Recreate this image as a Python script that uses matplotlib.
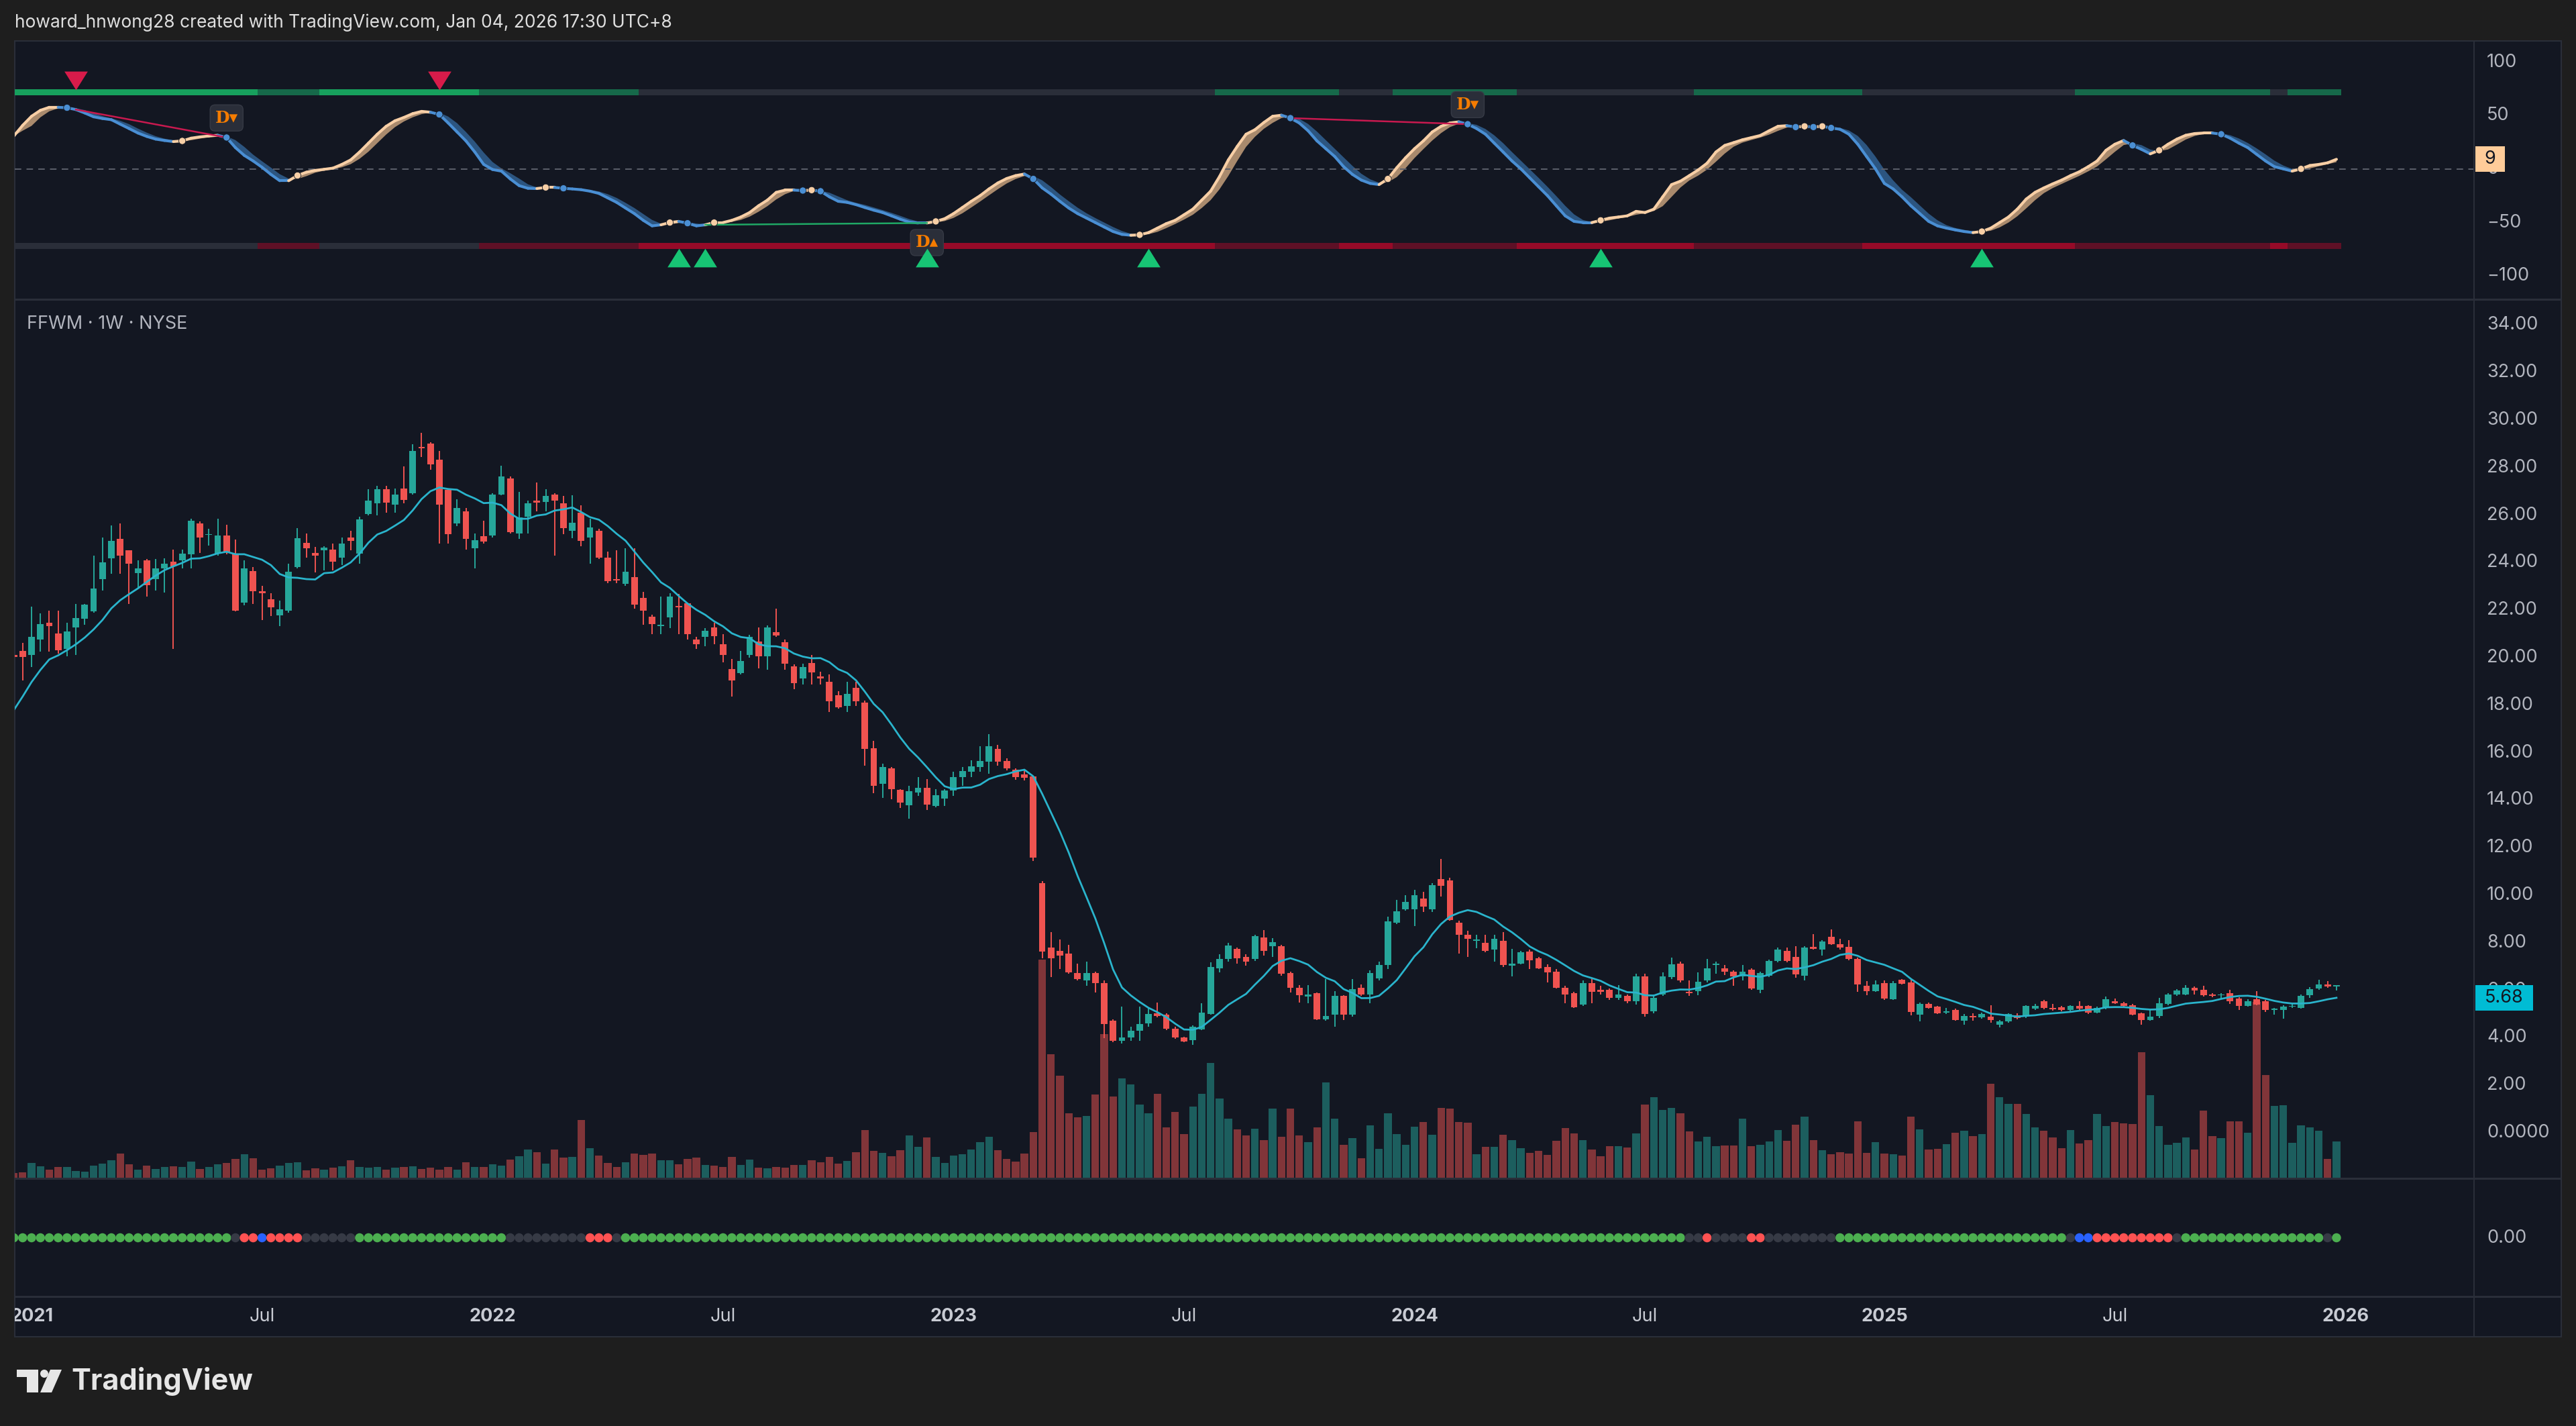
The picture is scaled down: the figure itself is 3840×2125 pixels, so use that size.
import numpy as np
import pandas as pd
import matplotlib
matplotlib.use("Agg")
import matplotlib.pyplot as plt
import matplotlib.dates as mdates
from matplotlib.patches import Rectangle, Polygon, Ellipse
from matplotlib.collections import LineCollection
from matplotlib.transforms import blended_transform_factory

plt.rcParams['font.family'] = ['Inter', 'DejaVu Sans']

# ---------------- data (FFWM weekly) ----------------
first_week = '2020-12-21'

# closes of the 9 weeks before the first visible bar (only feed the 10-week MA)
pre_close = [14.3, 14.8, 16.3, 16.9, 18.6, 18.9, 19.2, 19.4, 19.5]

opens = [
    20.1, 20.27, 20.12, 20.77, 21.48, 21.03, 20.37, 21.28, 21.63, 21.95,
    23.3, 24.18, 25.01, 24.51, 23.55, 24.09, 23.3, 23.75, 24.03, 24.09,
    24.34, 25.64, 25.16, 24.38, 25.14, 24.38, 22.32, 23.65, 22.79, 22.45,
    21.78, 21.98, 23.8, 24.84, 24.41, 24.53, 24.56, 24.22, 25.06, 24.38,
    26.04, 26.49, 27.08, 26.45, 27.12, 26.93, 28.88, 29.01, 28.34, 27.05,
    25.64, 26.15, 24.59, 25.1, 25.14, 26.86, 27.53, 25.22, 25.92, 26.61,
    26.55, 26.86, 26.5, 25.35, 26.11, 25.06, 25.35, 24.22, 23.3, 23.12,
    23.4, 22.51, 21.73, 21.32, 21.7, 22.18, 22.29, 20.75, 20.87, 21.28,
    20.56, 19.51, 19.36, 20.12, 20.68, 20.05, 21.06, 20.65, 19.64, 19.11,
    19.76, 19.2, 18.98, 18.42, 17.97, 18.73, 18.1, 16.2, 14.7, 15.33,
    14.43, 13.79, 14.33, 14.51, 13.75, 14.08, 14.4, 14.97, 15.19, 15.4,
    15.62, 16.15, 15.66, 15.29, 15.09, 15.0, 10.51, 7.8, 7.65, 7.54,
    6.73, 6.4, 6.73, 6.3, 4.72, 3.88, 4.02, 4.28, 4.6, 5.03,
    4.96, 4.38, 4.02, 3.91, 4.34, 5.0, 6.93, 7.31, 7.74, 7.41,
    7.31, 8.23, 7.84, 7.84, 6.73, 6.11, 5.72, 5.87, 4.77, 4.96,
    5.75, 4.96, 6.11, 5.82, 6.5, 7.05, 8.85, 9.42, 9.42, 9.86,
    9.42, 10.68, 10.62, 8.85, 8.32, 8.08, 7.98, 7.7, 8.08, 7.02,
    7.12, 7.62, 7.34, 6.98, 6.79, 6.11, 5.87, 5.39, 6.3, 6.01,
    6.01, 5.68, 5.75, 5.53, 6.59, 5.1, 5.82, 6.54, 7.12, 5.93,
    5.97, 6.4, 7.05, 6.93, 6.79, 6.59, 6.87, 6.03, 6.62, 7.22,
    7.66, 7.41, 6.62, 7.83, 7.71, 8.26, 7.93, 7.83, 7.33, 6.18,
    5.95, 6.3, 5.63, 6.44, 6.32, 4.96, 5.43, 5.31, 5.06, 5.16,
    4.72, 4.92, 4.86, 4.89, 4.54, 4.69, 4.94, 4.92, 5.23, 5.53,
    5.25, 5.28, 5.16, 5.33, 5.33, 5.06, 5.25, 5.55, 5.45, 5.38,
    5.02, 4.74, 4.92, 5.43, 5.81, 5.83, 6.11, 6.01, 5.81, 5.78,
    5.88, 5.65, 5.35, 5.61, 5.53, 5.18, 5.16, 5.31, 5.25, 5.78,
    6.08, 6.25, 6.17,
]

highs = [
    20.3, 20.62, 22.14, 21.86, 21.98, 21.98, 21.48, 22.26, 22.26, 24.3,
    25.06, 25.57, 25.64, 24.53, 24.09, 24.15, 24.15, 24.18, 24.56, 24.56,
    25.86, 25.73, 25.41, 25.86, 25.6, 24.97, 24.09, 23.8, 23.02, 22.7,
    22.39, 23.96, 25.44, 25.22, 24.66, 24.68, 24.81, 25.06, 25.35, 25.92,
    27.08, 27.24, 27.24, 27.12, 28.04, 28.97, 29.47, 29.07, 28.69, 27.12,
    26.68, 26.3, 25.22, 25.77, 26.93, 28.09, 27.62, 26.99, 26.61, 27.37,
    27.08, 26.93, 26.8, 26.83, 26.42, 25.86, 25.41, 24.47, 24.53, 24.6,
    24.6, 22.77, 21.82, 22.58, 22.7, 22.67, 22.32, 20.87, 21.25, 21.48,
    21.0, 19.93, 20.27, 20.95, 21.28, 21.35, 22.07, 20.75, 19.71, 19.74,
    20.12, 19.41, 19.3, 18.6, 18.98, 18.98, 18.2, 16.5, 15.55, 15.4,
    14.47, 14.61, 14.97, 14.9, 14.47, 14.47, 15.19, 15.4, 15.69, 16.27,
    16.77, 16.34, 15.77, 15.33, 15.26, 15.04, 10.58, 8.46, 8.13, 7.91,
    7.12, 7.19, 6.79, 6.4, 4.77, 5.32, 4.45, 5.32, 5.25, 5.49,
    5.03, 4.45, 4.05, 4.52, 5.46, 7.17, 7.51, 7.98, 7.8, 7.51,
    8.34, 8.52, 8.2, 7.91, 6.79, 6.21, 6.21, 5.9, 6.47, 5.97,
    5.78, 6.47, 6.25, 6.83, 7.19, 9.09, 9.81, 10.0, 10.22, 10.15,
    10.5, 11.52, 10.72, 8.92, 8.49, 8.34, 8.34, 8.34, 8.46, 7.74,
    7.65, 7.7, 7.41, 7.08, 6.9, 6.18, 5.93, 6.4, 6.5, 6.18,
    6.07, 6.21, 5.82, 6.69, 6.69, 5.82, 6.76, 7.37, 7.19, 6.4,
    6.76, 7.31, 7.19, 7.05, 6.83, 7.05, 6.92, 6.77, 7.3, 7.79,
    7.79, 7.86, 7.86, 8.36, 8.11, 8.55, 8.16, 8.11, 7.37, 6.37,
    6.42, 6.42, 6.37, 6.47, 6.44, 5.48, 5.48, 5.33, 5.25, 5.23,
    4.99, 5.04, 5.06, 5.38, 4.74, 5.04, 5.02, 5.38, 5.43, 5.58,
    5.43, 5.33, 5.38, 5.53, 5.38, 5.31, 5.73, 5.65, 5.51, 5.43,
    5.06, 5.18, 5.68, 5.88, 6.05, 6.22, 6.15, 6.18, 5.88, 5.88,
    6.03, 5.71, 5.63, 5.95, 5.58, 5.25, 5.38, 5.45, 5.83, 6.12,
    6.44, 6.37, 6.22,
]

lows = [
    19.7, 19.05, 19.61, 20.24, 20.24, 20.18, 20.05, 20.12, 21.38, 21.88,
    22.83, 23.52, 23.52, 22.26, 22.95, 22.58, 22.83, 22.74, 20.37, 23.77,
    23.77, 24.41, 24.72, 24.3, 24.34, 21.95, 22.2, 22.26, 21.57, 21.76,
    21.32, 21.88, 23.77, 24.22, 23.58, 23.67, 23.67, 23.9, 24.53, 23.96,
    25.98, 25.98, 26.11, 26.11, 26.49, 26.86, 28.44, 27.91, 24.81, 24.81,
    25.54, 24.56, 23.77, 24.79, 25.06, 26.83, 25.22, 25.01, 25.22, 26.17,
    26.17, 24.3, 25.2, 25.04, 24.68, 23.96, 24.15, 23.14, 23.14, 23.02,
    22.07, 21.38, 20.99, 20.99, 21.25, 20.99, 20.77, 20.37, 20.47, 20.56,
    19.8, 18.35, 19.3, 19.99, 19.55, 19.49, 20.87, 19.49, 18.67, 18.86,
    18.86, 18.86, 17.72, 17.85, 17.72, 17.97, 15.46, 14.3, 14.1, 14.04,
    13.68, 13.22, 14.18, 13.6, 13.7, 13.75, 14.18, 14.61, 14.97, 15.19,
    15.12, 15.44, 15.26, 14.86, 14.83, 11.44, 7.34, 6.54, 6.9, 6.69,
    6.4, 6.2, 5.9, 3.99, 3.81, 3.76, 3.88, 3.88, 4.45, 4.86,
    4.31, 3.95, 3.81, 3.7, 4.31, 4.96, 6.76, 7.2, 7.12, 7.02,
    7.22, 7.45, 7.41, 6.62, 5.9, 5.49, 5.46, 4.74, 4.71, 4.45,
    4.74, 4.89, 5.75, 5.46, 6.4, 6.9, 8.78, 9.35, 8.7, 9.28,
    9.28, 9.93, 8.92, 7.55, 7.41, 7.77, 7.59, 7.2, 6.98, 6.59,
    7.08, 6.88, 6.88, 6.33, 6.07, 5.46, 5.25, 5.35, 5.46, 5.82,
    5.6, 5.6, 5.46, 5.39, 4.89, 5.03, 5.75, 6.47, 6.33, 5.75,
    5.78, 6.33, 6.69, 6.65, 6.18, 6.4, 6.03, 5.88, 6.55, 7.17,
    7.17, 6.52, 6.42, 7.71, 7.46, 7.91, 7.71, 7.27, 5.93, 5.78,
    5.93, 5.58, 5.58, 6.24, 4.94, 4.69, 5.23, 4.99, 4.99, 4.72,
    4.54, 4.72, 4.79, 4.64, 4.44, 4.64, 4.76, 4.84, 5.18, 5.21,
    5.13, 5.11, 5.08, 5.18, 4.99, 5.04, 5.21, 5.41, 5.28, 4.94,
    4.56, 4.72, 4.84, 5.38, 5.75, 5.78, 5.83, 5.73, 5.71, 5.63,
    5.43, 5.18, 5.31, 5.38, 5.08, 4.96, 4.79, 5.25, 5.23, 5.68,
    6.03, 6.1, 5.98,
]

closes = [
    20.02, 20.03, 20.87, 21.4, 21.32, 20.31, 21.1, 21.66, 22.24, 22.92,
    24.0, 24.91, 24.3, 23.96, 23.75, 23.04, 23.75, 23.96, 23.84, 24.38,
    25.77, 25.06, 25.21, 25.14, 24.43, 21.98, 23.75, 22.79, 22.7, 22.11,
    22.03, 23.62, 25.04, 24.6, 24.28, 24.63, 24.05, 24.81, 24.91, 25.82,
    26.61, 27.08, 26.52, 26.86, 26.65, 28.69, 28.8, 28.13, 26.45, 25.19,
    26.3, 25.01, 24.93, 24.89, 26.86, 27.62, 25.29, 25.89, 26.49, 26.52,
    26.8, 26.61, 25.45, 25.69, 24.91, 25.48, 24.22, 23.21, 23.25, 23.62,
    22.24, 21.98, 21.4, 21.38, 22.58, 22.11, 21.0, 20.56, 21.13, 20.9,
    20.12, 19.05, 19.86, 20.87, 20.05, 21.28, 20.94, 19.74, 18.92, 19.61,
    19.39, 19.13, 18.16, 17.91, 18.48, 18.16, 16.17, 14.6, 15.4, 14.47,
    13.9, 14.37, 14.51, 13.82, 14.22, 14.4, 14.97, 15.23, 15.43, 15.66,
    16.27, 15.62, 15.33, 14.97, 14.94, 11.59, 7.63, 7.34, 7.45, 6.76,
    6.47, 6.73, 6.3, 4.57, 3.88, 4.02, 4.28, 4.57, 5.0, 4.92,
    4.38, 4.0, 3.85, 4.45, 5.06, 6.98, 7.31, 7.88, 7.34, 7.2,
    8.27, 7.65, 8.03, 6.69, 6.11, 5.78, 5.81, 4.77, 4.92, 5.75,
    4.96, 6.04, 5.82, 6.73, 7.06, 8.89, 9.32, 9.71, 10.0, 9.53,
    10.43, 10.39, 8.95, 8.32, 8.17, 8.13, 7.65, 8.17, 7.05, 7.12,
    7.59, 7.26, 6.93, 6.76, 6.11, 5.82, 5.29, 6.3, 5.93, 5.93,
    5.68, 5.82, 5.53, 6.59, 5.0, 5.68, 6.59, 7.08, 6.4, 5.87,
    6.36, 6.93, 7.12, 6.79, 6.59, 6.79, 6.08, 6.72, 7.22, 7.71,
    7.22, 6.67, 7.81, 7.73, 8.06, 7.93, 7.79, 7.32, 6.23, 5.95,
    6.23, 5.65, 6.3, 6.27, 5.08, 5.43, 5.25, 5.02, 5.12, 4.74,
    4.92, 4.86, 4.99, 4.74, 4.69, 4.99, 4.82, 5.35, 5.35, 5.25,
    5.21, 5.16, 5.33, 5.23, 5.06, 5.25, 5.61, 5.45, 5.33, 4.96,
    4.74, 4.89, 5.45, 5.83, 5.98, 6.11, 5.98, 5.78, 5.75, 5.83,
    5.53, 5.33, 5.55, 5.40, 5.16, 5.20, 5.30, 5.35, 5.75, 6.05,
    6.25, 6.15, 6.2,
]

# weekly volume, arbitrary units
volume = [
    7.3, 8.3, 21.7, 17.3, 12.3, 16.3, 16.3, 10, 9, 18,
    21, 26, 36.3, 19.7, 12, 18, 13.3, 16.3, 17.3, 15.7,
    24, 13, 15.7, 20, 22, 28, 34.7, 29, 12.3, 14,
    18, 22, 23.3, 11.3, 14, 12.3, 15, 17, 26, 16,
    15, 15.7, 11.7, 15, 16.3, 17, 13, 14.7, 12.3, 16.3,
    12.3, 22.7, 15.7, 15.7, 20, 18.3, 27.3, 32, 42, 37.7,
    21, 42, 30, 30.7, 85.7, 44, 33, 22, 15.7, 22.7,
    36.3, 33.7, 36.3, 26, 26, 19.7, 28.3, 30, 18.7, 18,
    15.7, 30.7, 18.7, 27.3, 15, 14, 16.3, 14.7, 19, 19,
    26, 23, 30.7, 21.3, 25.3, 38, 70.7, 39.8, 37, 32,
    41, 62.8, 46, 60, 30.6, 22, 33, 34.7, 42.3, 52.6,
    61, 41.3, 28, 24.5, 36, 67.9, 325, 183.7, 152, 96,
    89.8, 91.8, 124, 214, 121, 148, 139, 108.7, 96, 125.5,
    75.5, 98.5, 65.3, 106, 125, 171, 117.9, 88.3, 72, 62.8,
    73, 56, 103, 61, 103, 62.8, 52.6, 75.5, 141.8, 87.8,
    49, 59, 28.6, 78, 43.4, 96, 65.3, 49.5, 76.5, 83,
    64.3, 103.6, 102.6, 83, 81.6, 34.7, 46, 46, 63.8, 56,
    43.9, 37, 39.8, 33.7, 55, 74, 66.3, 56, 42.3, 32,
    47.4, 47.4, 44.9, 66.3, 108.7, 120, 101, 103.6, 96, 69.4,
    54, 61, 47.4, 48.5, 48.5, 88, 47.4, 48.8, 54.4, 70.9,
    55.1, 78.9, 90.8, 56.5, 41, 35.1, 38.2, 36.1, 84.2, 36.8,
    53, 36.1, 35.1, 33, 90.8, 71.9, 42.1, 43.1, 49.8, 67.3,
    70.5, 62.1, 64.9, 140, 120, 110.5, 110.5, 95, 75.4, 69.8,
    59.6, 43.8, 71.2, 51.2, 56.5, 95, 77.5, 83.1, 80.7, 79.6,
    186.6, 123.1, 77.5, 49.1, 51.9, 60, 42.1, 100.3, 61.7, 58.6,
    84.2, 84.2, 66.6, 262, 152.9, 107.3, 108, 51.6, 78.2, 75.4,
    70.2, 28, 54,
]

# oscillator (fast line) of the upper pane
osc_wave = [
    31, 41, 49.5, 55.1, 57.9, 57.9, 57.5, 55.8, 52.6, 49,
    47.4, 46.3, 42.1, 38, 33.8, 30.6, 28.1, 26.8, 25.8, 26.4,
    29, 30.2, 31, 31.7, 29.6, 20.1, 12.8, 7.6, 1.7, -5,
    -10.9, -10.9, -6, -2.9, -1.2, -0.2, 0.9, 4.4, 8.6, 16,
    24.3, 32.7, 40.1, 45.3, 48.4, 52, 54.1, 53.3, 51.2, 43.2,
    34.8, 26.4, 16, 4.4, -0.4, -1.9, -9.2, -15.5, -18, -18.2,
    -17.2, -17.2, -18, -18.6, -19.3, -20.7, -22.8, -27, -31.2, -36.5,
    -41.7, -48, -53.2, -52.2, -50.1, -49, -50.7, -53.2, -52.2, -50.1,
    -50.1, -48, -44.9, -40.7, -34.4, -29.1, -21.8, -19.7, -19.7, -20.1,
    -19.7, -20.7, -26, -30.2, -31.2, -33.3, -36, -38.5, -40.7, -43.8,
    -47, -49.7, -50.5, -50.5, -49, -46.5, -41.7, -36, -30.2, -24.9,
    -18.6, -13, -8.8, -6.1, -4.6, -9.2, -17.6, -23.5, -30.2, -36.5,
    -41.7, -45.9, -50.1, -54.3, -58.5, -61.2, -62, -61.6, -59.5, -55.3,
    -51.1, -48, -42.8, -37.5, -29.1, -20.7, -7.1, 8.6, 21.2, 32.7,
    36.9, 43.6, 49.5, 50.5, 47.8, 43.2, 35.9, 26.4, 19.1, 11.8,
    2.3, -5, -10.3, -13.4, -14.5, -9.2, 1.3, 10.7, 19.1, 26.4,
    34.8, 40.1, 43.2, 44.3, 42.1, 38, 32.7, 24.3, 16, 7.6,
    0.2, -8.2, -16.6, -24.9, -34.4, -43.8, -49, -50.1, -50.1, -48,
    -45.9, -44.9, -43.8, -39.6, -40.7, -37.5, -26, -14.5, -11.3, -6.1,
    -0.8, 5.5, 16, 22.2, 24.8, 27.5, 29.5, 31.5, 35.9, 40.1,
    40.7, 39.4, 40.1, 39.4, 40.1, 38.6, 37.3, 32.7, 23.3, 11.7,
    0.2, -13.4, -18.6, -26, -34.4, -41.7, -49, -53.2, -55.3, -57,
    -58.5, -59.5, -58.5, -55.3, -50.1, -44.9, -37.5, -28.1, -21.8, -17.6,
    -13.8, -10.3, -6.1, -2.5, 2.3, 7.6, 17.6, 23.3, 26.8, 22.2,
    18.5, 14.3, 17.6, 23.3, 28.1, 31.7, 33.3, 33.8, 33.8, 32.7,
    29, 24.3, 20.1, 13.8, 7.6, 2.3, 0.2, -1.9, 0.2, 3.4,
    4.4, 5.9, 9.2,
]

# trend band state per run of bars: 2 strong up, 1 neutral, 0 down
band_state = [2, 1, 2, 1, 0, 1, 0, 1, 0, 1, 0, 1, 0, 1]
band_len = [28, 7, 18, 18, 65, 14, 6, 14, 20, 19, 24, 22, 2, 6]

# dot row of the lower pane: G green, R red, B blue, N neutral
dot_state = ['G', 'N', 'R', 'B', 'R', 'N', 'G', 'N', 'R', 'N', 'G', 'N',
             'R', 'N', 'R', 'N', 'G', 'N', 'B', 'R', 'N', 'G', 'N', 'G']
dot_len = [25, 1, 2, 1, 4, 6, 17, 9, 3, 1, 120, 2, 1, 4, 2, 8, 26, 1, 2, 9,
           1, 16, 1, 1]

sell_bars = [7, 48]
buy_bars = [75, 78, 103, 128, 179, 222]
bear_div = [(7, 24), (144, 164)]
bull_div = [(78, 103)]

tick_dates = ['2021-01-04', '2021-07-05', '2022-01-03', '2022-07-04',
              '2023-01-02', '2023-07-03', '2024-01-01', '2024-07-01',
              '2025-01-06', '2025-07-07', '2026-01-05']
tick_labels = ['2021', 'Jul', '2022', 'Jul', '2023', 'Jul', '2024', 'Jul',
               '2025', 'Jul', '2026']
price_ticks = [34, 32, 30, 28, 26, 24, 22, 20, 18, 16, 14, 12, 10, 8, 6, 4, 2, 0]
osc_ticks = [100, 50, 0, -50, -100]

# ---------------- look ----------------
W, H = 3840, 2125
BG = '#1e1e1e'
PANE = '#131722'
LINE = '#2a2e39'
TXT = '#b2b5be'
UP, DN = '#26a69a', '#ef5350'
VUP, VDN = '#1c5e5e', '#813539'
PEACH, PEACH_F = '#f8cfa6', '#a98a6d'
BLUE, BLUE_F = '#4a8fd4', '#2c5580'
FS = 19.5

fig = plt.figure(figsize=(W / 100, H / 100), dpi=100, facecolor=BG)


def fig_rect(x0, y0, x1, y1, **kw):
    # rectangle in screen pixels (y from top)
    r = Rectangle((x0 / W, 1 - y1 / H), (x1 - x0) / W, (y1 - y0) / H,
                  transform=fig.transFigure, **kw)
    fig.patches.append(r)
    return r


fig_rect(22, 61, 3818, 1992, facecolor=PANE, edgecolor=LINE, lw=1.5, zorder=-5)


def add_ax(top, bottom):
    ax = fig.add_axes([22 / W, 1 - bottom / H, (3688 - 22) / W, (bottom - top) / H])
    ax.set_facecolor('none')
    ax.axis('off')
    return ax


weeks = pd.date_range(first_week, periods=len(closes), freq='7D')
x = mdates.date2num(weeks)
px_day = 13.215 / 7
x_lim = (x[0] + (22 - 20.6) / px_day, x[0] + (3688 - 20.6) / px_day)

o = np.array(opens)
h = np.array(highs)
l = np.array(lows)
c = np.array(closes)
h = np.maximum(h, np.maximum(o, c))
l = np.minimum(l, np.minimum(o, c))
rising = c >= o

# ---------------- oscillator pane ----------------
ax_o = add_ax(61, 446)
ax_o.set_xlim(*x_lim)
ax_o.set_ylim(-122.0, 120.1)

states = np.repeat(band_state, band_len)
top_cols = np.array(['#2a2e39', '#16694a', '#17a05d'])[states]
bot_cols = np.array(['#960a28', '#5e1026', '#2a2e39'])[states]
ax_o.bar(x, 5.2, bottom=72 - 2.6, width=7.02, color=top_cols, lw=0, antialiased=False)
ax_o.bar(x, 5.2, bottom=-72 - 2.6, width=7.02, color=bot_cols, lw=0, antialiased=False)

ax_o.axhline(0, color='#5d606b', lw=1.4, ls=(0, (5, 4)))

osc = np.array(osc_wave)
sig = pd.Series(osc).rolling(3, min_periods=1).mean().values
up = osc >= sig
ax_o.fill_between(x, osc, sig, where=up, interpolate=True, color=PEACH_F, lw=0)
ax_o.fill_between(x, osc, sig, where=~up, interpolate=True, color=BLUE_F, lw=0)
pts = np.column_stack([x, osc])
segs = np.stack([pts[:-1], pts[1:]], axis=1)
ax_o.add_collection(LineCollection(segs, colors=np.where(up[1:], PEACH, BLUE),
                                   linewidths=3.0, capstyle='round'))
cross = np.where(up[1:] != up[:-1])[0] + 1
ax_o.scatter(x[cross], osc[cross], s=55, zorder=5,
             c=np.where(up[cross], PEACH, BLUE), edgecolors='#131722', lw=0.6)

dlabel = dict(ha='center', va='center', fontsize=18, fontweight='bold',
              family=['DejaVu Serif', 'DejaVu Sans'], color='#f57c00', zorder=6,
              bbox=dict(boxstyle='round,pad=0.3', fc='#2a2e39', ec='#363a45', lw=1))
for a, b in bear_div:
    ax_o.plot([x[a], x[b]], [osc[a], osc[b]], color='#c8194f', lw=1.8, zorder=4)
    ax_o.annotate('D▾', (x[b], osc[b]), xytext=(0, 21), textcoords='offset points', **dlabel)
for a, b in bull_div:
    ax_o.plot([x[a], x[b]], [osc[a], osc[b]], color='#1fa865', lw=1.8, zorder=4)
    ax_o.annotate('D▴', (x[b], osc[b]), xytext=(0, -21), textcoords='offset points', **dlabel)

tri_down = [(-1.25, 1), (1.25, 1), (0, -1)]
tri_up = [(-1.25, -1), (1.25, -1), (0, 1)]
ax_o.scatter(x[sell_bars], [83] * len(sell_bars), marker=tri_down, s=25 ** 2,
             color='#d81b4a', lw=0, zorder=6, clip_on=False)
ax_o.scatter(x[buy_bars], [-83] * len(buy_bars), marker=tri_up, s=25 ** 2,
             color='#17c474', lw=0, zorder=6, clip_on=False)

# ---------------- price pane ----------------
ax_v = add_ax(447, 1755)
ax_v.set_xlim(*x_lim)
ax_v.set_ylim(0, 1308)
ax_v.bar(x, volume, width=6.0, color=np.where(rising, VUP, VDN), lw=0)

ax_p = add_ax(447, 1755)
ax_p.set_xlim(*x_lim)
ax_p.set_ylim(-1.893, 35.056)
cols = np.where(rising, UP, DN)
ax_p.vlines(x, l, h, colors=cols, lw=1.4)
ax_p.bar(x, np.maximum(np.abs(c - o), 0.04), bottom=np.minimum(o, c), width=5.2,
         color=cols, lw=0)
ma = pd.Series(pre_close + closes).rolling(10).mean().values[len(pre_close):]
ax_p.plot(x, ma, color='#2ab4cc', lw=2.0)
fig.text(40 / W, 1 - 483 / H, 'FFWM · 1W · NYSE', color=TXT, fontsize=FS, va='center')

# ---------------- dots pane ----------------
ax_d = add_ax(1757, 1932)
ax_d.set_xlim(*x_lim)
ax_d.set_ylim(-1, 1)
dot_map = {'G': '#4caf50', 'R': '#ff5252', 'B': '#2962ff', 'N': '#363a45'}
dcols = [dot_map[s] for s in np.repeat(dot_state, dot_len)]
ax_d.scatter(x, np.zeros(len(x)), s=95, c=dcols, lw=0)

# ---------------- time axis ----------------
ax_t = add_ax(1932, 1992)
ax_t.set_xlim(*x_lim)
tr = blended_transform_factory(ax_t.transData, ax_t.transAxes)
for d, lab in zip(tick_dates, tick_labels):
    ax_t.text(mdates.date2num(pd.Timestamp(d)), 0.5, lab, transform=tr, ha='center',
              va='center', fontsize=FS, color='#c8cbd3', clip_on=True,
              fontweight='bold' if lab != 'Jul' else 'normal')

# separators
for y0, y1 in [(445.5, 448), (1755, 1757.5), (1931, 1933.5)]:
    fig_rect(22, y0, 3818, y1, facecolor=LINE, lw=0, zorder=3)
fig_rect(3687, 61, 3689, 1992, facecolor=LINE, lw=0, zorder=3)


# ---------------- right scale ----------------
def ypix(ax, val):
    return ax.transData.transform((x_lim[0], val))[1]


def scale_label(ax, val, txt):
    fig.text(3707 / W, ypix(ax, val) / H, txt, color=TXT, fontsize=FS, va='center')


def badge(ax, val, txt, fc, w):
    yc = ypix(ax, val)
    fig_rect(3690, H - yc - 19, 3690 + w, H - yc + 19, facecolor=fc, lw=0, zorder=4)
    fig.text((3690 + w / 2) / W, yc / H, txt, color='#131722', fontsize=FS,
             ha='center', va='center', zorder=5)


for v in osc_ticks:
    scale_label(ax_o, v, str(v).replace('-', '−'))
for p in price_ticks:
    scale_label(ax_p, p, f'{p:.2f}' if p else '0.0000')
scale_label(ax_d, 0, '0.00')
badge(ax_o, osc[-1], f'{osc[-1]:.0f}', '#ffcc99', 44)
badge(ax_p, ma[-1], f'{ma[-1]:.2f}', '#00bcd4', 86)

# ---------------- header / footer ----------------
fig.text(22 / W, 1 - 34 / H,
         'howard_hnwong28 created with TradingView.com, Jan 04, 2026 17:30 UTC+8',
         color='#dedede', fontsize=19, va='center')


def P(pts):
    return [(px / W, 1 - py / H) for px, py in pts]


fig.patches.append(Polygon(P([(25, 2041), (57, 2041), (57, 2075), (40, 2075),
                              (40, 2052), (25, 2052)]),
                           closed=True, transform=fig.transFigure, fc='#e6e6e6', lw=0))
fig.patches.append(Ellipse((66 / W, 1 - 2047 / H), 12 / W, 12 / H,
                           transform=fig.transFigure, fc='#e6e6e6', lw=0))
fig.patches.append(Polygon(P([(75, 2041), (92, 2041), (77, 2075), (60, 2075)]),
                           closed=True, transform=fig.transFigure, fc='#e6e6e6', lw=0))
fig.text(106 / W, 1 - 2058 / H, 'TradingView', color='#e6e6e6', fontsize=31,
         fontweight='bold', va='center')

fig.savefig('out.png', dpi=100, facecolor=BG)
